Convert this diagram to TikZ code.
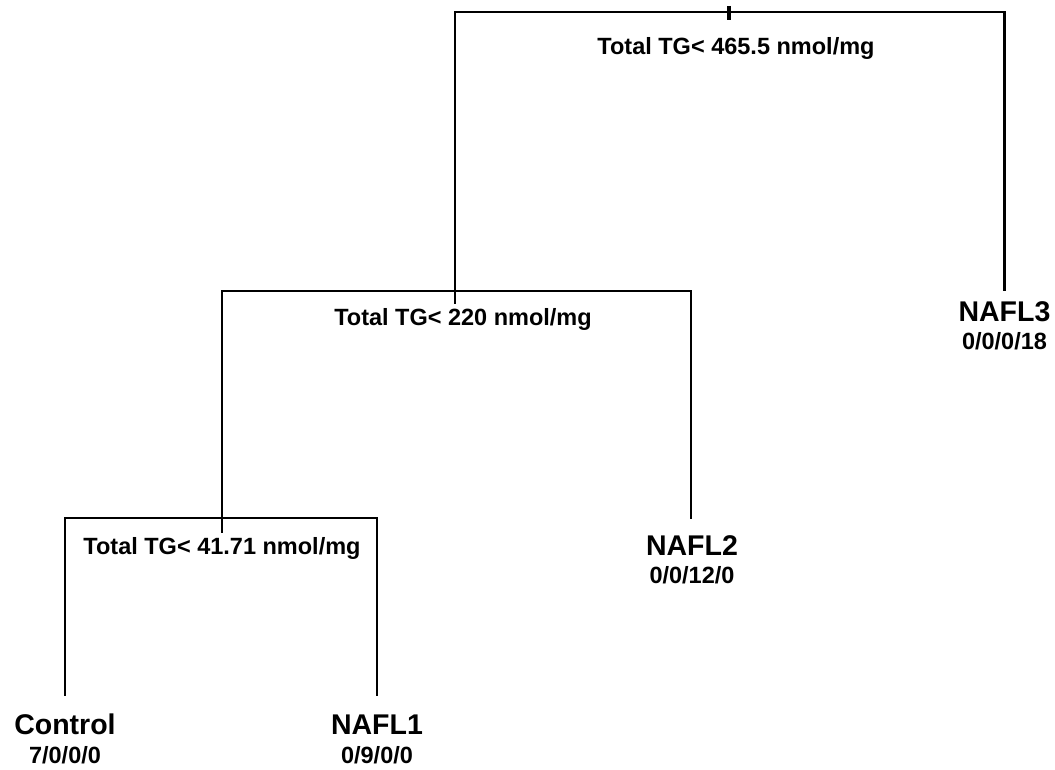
\documentclass[tikz,border=0pt]{standalone}
\usepackage{fontspec}
\setmainfont{Liberation Sans}
\begin{document}
\begin{tikzpicture}[x=1pt,y=-1pt,
  branch/.style={line width=2.4pt,line cap=rect,line join=miter},
  tick/.style={line width=3.3pt},
  splitlabel/.style={anchor=base,inner sep=0pt,font=\fontsize{23.5}{26}\selectfont\bfseries},
  classlabel/.style={anchor=base,inner sep=0pt,font=\fontsize{28.5}{32}\selectfont\bfseries},
  countlabel/.style={anchor=base,inner sep=0pt,font=\fontsize{23.5}{26}\selectfont\bfseries}]
\useasboundingbox (0,0) rectangle (1055,770);
% split points
\coordinate (roottop) at (729,6);
\coordinate (root) at (729,12);
\coordinate (rootbot) at (729,20);
\coordinate (n2) at (455,291);
\coordinate (n2bot) at (455,303);
\coordinate (n3) at (222,518);
\coordinate (n3bot) at (222,532);
% leaf ends
\coordinate (l3) at (1004.5,290);
\coordinate (l2) at (691,518);
\coordinate (lc) at (65,695);
\coordinate (l1) at (377,695);
% branches
\draw[tick] (roottop) -- (rootbot);
\draw[branch] (n2bot) |- (root) -| (l3);
\draw[branch] (n3bot) |- (n2) -| (l2);
\draw[branch] (lc) |- (n3) -| (l1);
% split labels
\node[splitlabel] (s1) at (736,55) {Total TG< 465.5 nmol/mg};
\node[splitlabel] (s2) at (463,325) {Total TG< 220 nmol/mg};
\node[splitlabel] (s3) at (222,554.5) {Total TG< 41.71 nmol/mg};
% leaves
\node[classlabel] (c3) at (1004.5,321) {NAFL3};
\node[countlabel] (k3) at (1004.5,349) {0/0/0/18};
\node[classlabel] (c2) at (692,555) {NAFL2};
\node[countlabel] (k2) at (692,583) {0/0/12/0};
\node[classlabel] (cc) at (65,734) {Control};
\node[countlabel] (kc) at (65,763) {7/0/0/0};
\node[classlabel] (c1) at (377,734) {NAFL1};
\node[countlabel] (k1) at (377,763) {0/9/0/0};
\end{tikzpicture}
\end{document}
